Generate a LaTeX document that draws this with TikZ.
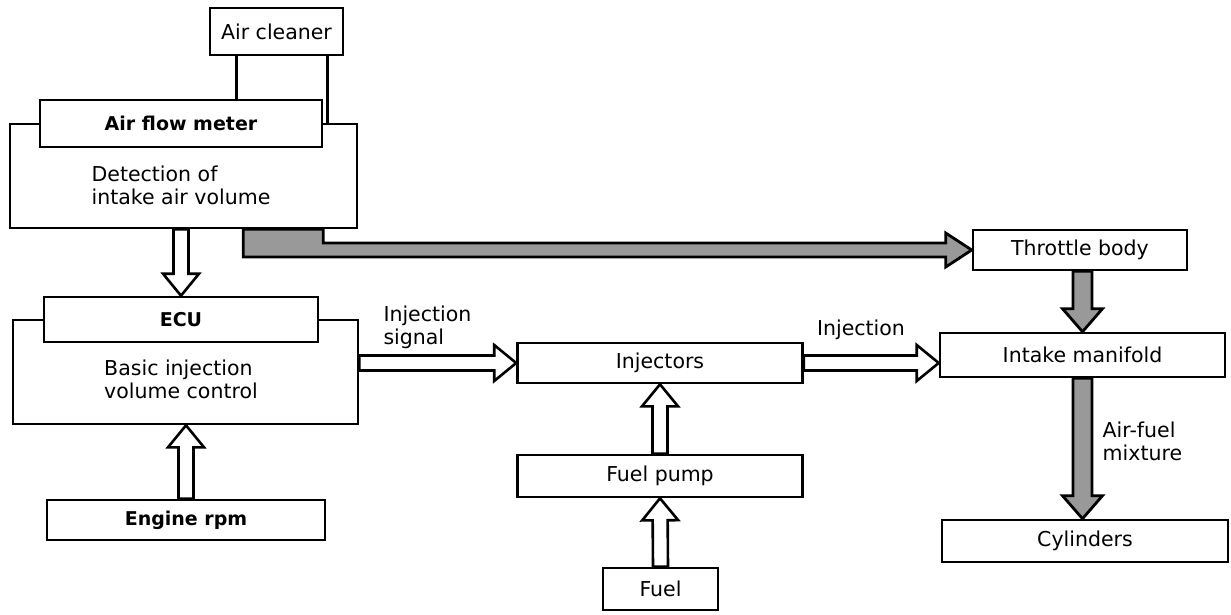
\documentclass[tikz,border=0pt]{standalone}
\usepackage{fontspec}
\setmainfont{DejaVu Sans}
\usetikzlibrary{positioning}
\usetikzlibrary{calc}
\tikzset{box/.style = {draw, line width=2.6pt, fill=white, inner sep=0pt,
                       font=\fontsize{20.5}{23}\selectfont},
         boldbox/.style = {box, font=\fontsize{19}{22}\selectfont\bfseries},
         lbl/.style = {inner sep=0pt, align=left, font=\fontsize{20.5}{23}\selectfont},
         fatarrow/.style n args = {3}{to path={
             let \p1 = (\tikztostart), \p2 = (\tikztotarget),
                 \n1 = {veclen(\x2-\x1,\y2-\y1)},
                 \n2 = {(\x2-\x1)/\n1}, \n3 = {(\y2-\y1)/\n1} in
             (\x1-#1pt*\n3, \y1+#1pt*\n2)
             -- (\x2-#3pt*\n2-#1pt*\n3, \y2-#3pt*\n3+#1pt*\n2)
             -- (\x2-#3pt*\n2-#2pt*\n3, \y2-#3pt*\n3+#2pt*\n2)
             -- (\x2, \y2)
             -- (\x2-#3pt*\n2+#2pt*\n3, \y2-#3pt*\n3-#2pt*\n2)
             -- (\x2-#3pt*\n2+#1pt*\n3, \y2-#3pt*\n3-#1pt*\n2)
             -- (\x1+#1pt*\n3, \y1-#1pt*\n2) -- cycle}},
         hollow/.style = {draw, line width=2.6pt, fill=white, line join=miter,
                          fatarrow={7.5}{18}{22}},
         airflow/.style = {draw, line width=2.8pt, fill=black!40, line join=miter},
         airarrow/.style = {airflow, fatarrow={9.5}{20}{23}}}
\begin{document}
\begin{tikzpicture}[x=1pt, y=-1pt]
      \useasboundingbox (0,0) rectangle (1231,614);

      \node[box, minimum width=133pt, minimum height=47pt] (clean) at (276.5,31.5) {Air cleaner};
      \node[box, minimum width=347pt, minimum height=104pt] (det) at (183.5,176) {};
      \node[boldbox, minimum width=282pt, minimum height=47pt] (afm) at (181,123.5) {Air flow meter};
      \node[lbl, below=17pt of afm] (dettxt) {Detection of\\intake air volume};
      \coordinate (pipel) at ([xshift=28pt]clean.south west);
      \coordinate (piper) at ([xshift=-17pt]clean.south east);
      \draw[line width=2.6pt] (pipel) -- (pipel |- afm.north);
      \draw[line width=2.6pt] (piper) -- (piper |- det.north);

      \node[box, minimum width=345pt, minimum height=104pt] (ecu) at (185.5,372) {};
      \node[boldbox, minimum width=274pt, minimum height=45pt] (ecuin) at (181,319.5) {ECU};
      \node[lbl, below=16pt of ecuin] (ecutxt) {Basic injection\\volume control};
      \node[boldbox, minimum width=278pt, minimum height=40pt] (rpm) at (186,520) {Engine rpm};

      \node[box, minimum width=285pt, minimum height=40pt] (inj) at (660,363) {Injectors};
      \node[box, minimum width=285pt, minimum height=42pt] (pump) at (660,476) {Fuel pump};
      \node[box, minimum width=115pt, minimum height=42pt] (fuel) at (660.5,589) {Fuel};

      \node[box, minimum width=214pt, minimum height=40pt] (thr) at (1080,250) {Throttle body};
      \node[box, minimum width=285pt, minimum height=44pt] (im) at (1082.5,355) {Intake manifold};
      \node[box, minimum width=286pt, minimum height=42pt] (cyl) at (1085,541) {Cylinders};

      \draw[hollow] (ecuin.north |- det.south) to (ecuin.north);
      \draw[hollow] (rpm.north) to (rpm.north |- ecu.south);
      \coordinate (sigpt) at (ecu.east |- inj.west);
      \draw[hollow] (sigpt) to (inj.west);
      \draw[hollow] (pump.north) to (inj.south);
      \draw[hollow] (fuel.north) to (pump.south);
      \draw[hollow] (inj.east) to (im.west |- inj.east);

      \coordinate (blockr) at (det.south -| afm.east);
      \coordinate (blockl) at ([xshift=-80pt]blockr);
      \coordinate (bandt) at ([yshift=7pt]thr.west);
      \coordinate (bandb) at ([yshift=-7pt]thr.west);
      \coordinate (headt) at ([xshift=-26pt,yshift=17pt]thr.west);
      \coordinate (headb) at ([xshift=-26pt,yshift=-17pt]thr.west);
      \draw[airflow] (blockr) -- (bandt -| blockr) -- (bandt -| headt) -- (headt) -- (thr.west)
        -- (headb) -- (bandb -| headb) -- (bandb -| blockl) -- (blockl) -- cycle;
      \draw[airarrow] (im.north |- thr.south) to (im.north);
      \draw[airarrow] (im.south) to (im.south |- cyl.north);

      \node[lbl, anchor=south west] (sig) at ([xshift=24pt,yshift=14pt]sigpt) {Injection\\signal};
      \node[lbl, anchor=south west] (injlbl) at ([xshift=13pt,yshift=23pt]inj.east) {Injection};
      \node[lbl, anchor=north west] (mix) at ([xshift=20pt,yshift=-43pt]im.south) {Air-fuel\\mixture};
    \end{tikzpicture}
\end{document}
